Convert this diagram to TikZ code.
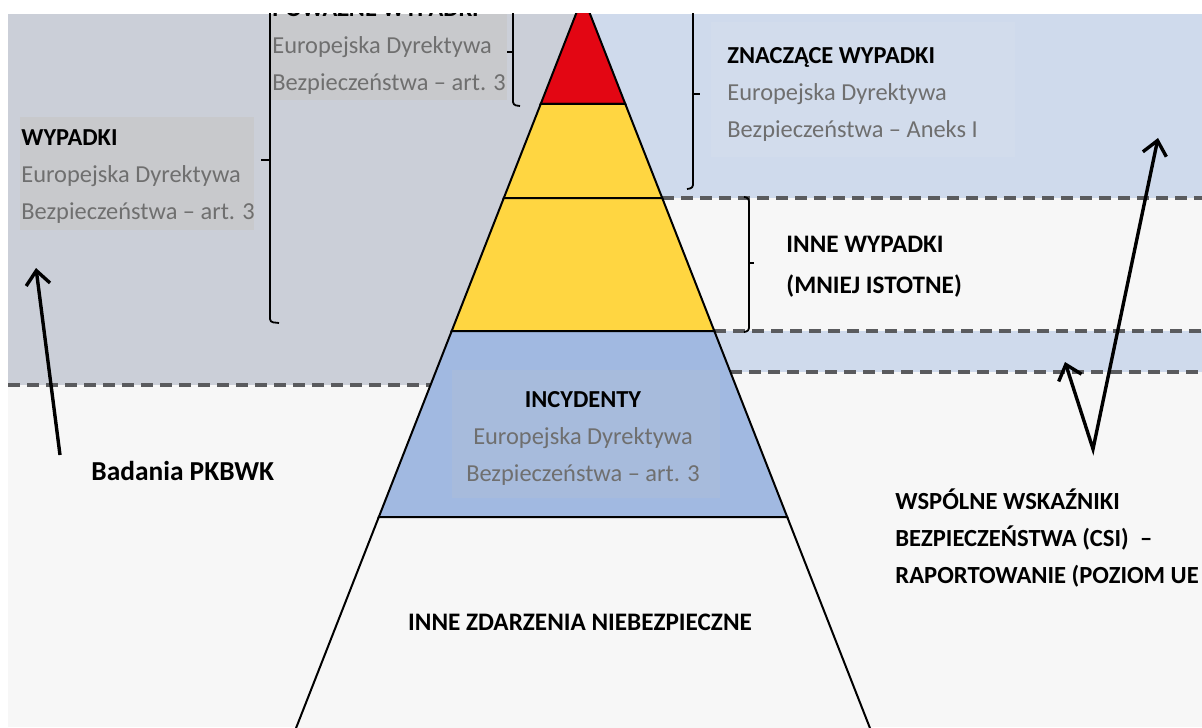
\documentclass[tikz,border=0pt]{standalone}
\usepackage{fontspec}
\setmainfont{Carlito}
\usepackage{xcolor}
\usepackage{tikz}
\usetikzlibrary{arrows.meta}

\definecolor{greyband}{HTML}{CBCFD8}
\definecolor{greybox}{HTML}{C8C9CC}
\definecolor{blueband}{HTML}{CFDAEC}
\definecolor{bluebox}{HTML}{D2DCEC}
\definecolor{paleband}{HTML}{F7F7F7}
\definecolor{dashgrey}{HTML}{5A5B5E}
\definecolor{topred}{HTML}{E30613}
\definecolor{midyellow}{HTML}{FFD641}
\definecolor{lowblue}{HTML}{A1B9E1}
\definecolor{incbox}{HTML}{A7BBDC}
\definecolor{greytxt}{HTML}{6F6F6F}

\begin{document}
\begin{tikzpicture}[x=0.5pt, y=-0.5pt]
  \tikzset{
    bandfill/.style={draw=none},
    dashrule/.style={draw=dashgrey, line width=1.8pt, dash pattern=on 6pt off 3.5pt},
    layer/.style={draw=black, line width=1pt, line join=miter},
    brace/.style={draw=black, line width=0.9pt, rounded corners=1.5pt},
    bigarrow/.style={draw=black, line width=1.7pt, line join=miter},
    dirtext/.style={inner sep=0pt, align=left, text=greytxt, font=\fontsize{12.2}{18.5}\selectfont},
    capsnote/.style={inner sep=0pt, align=left, font=\bfseries\fontsize{12.6}{20.5}\selectfont}
  }
  \useasboundingbox (0,0) rectangle (1202,727);
  \fill[white] (0,0) rectangle (1202,727);

  \begin{scope}
    \clip (8,14) rectangle (1202,727);

    % Backgrounds
    \fill[paleband] (8,14) rectangle (1202,727);
    \fill[greyband] (8,14) rectangle (583,385);
    \fill[blueband] (583,14) rectangle (1202,198);
    \fill[blueband] (583,331) rectangle (1202,372);

    % Text boxes behind the labels
    \fill[greybox] (270,14) rectangle (507,100);
    \fill[greybox] (20,117) rectangle (254,230);
    \fill[bluebox] (711,22) rectangle (1015,157);

    % Dashed rules
    \draw[dashrule] (8,385) -- (430,385);
    \draw[dashrule] (662,198) -- (1202,198);
    \draw[dashrule] (714,331) -- (1202,331);
    \draw[dashrule] (730,372) -- (1202,372);

    % Pyramid
    \filldraw[layer, fill=topred] (583,-4) -- (625.3,104) -- (540.7,104) -- cycle;
    \filldraw[layer, fill=midyellow] (540.7,104) -- (625.3,104) -- (662.2,198) -- (503.8,198) -- cycle;
    \filldraw[layer, fill=midyellow] (503.8,198) -- (662.2,198) -- (714.3,331) -- (451.7,331) -- cycle;
    \filldraw[layer, fill=lowblue] (451.7,331) -- (714.3,331) -- (787.2,517) -- (378.8,517) -- cycle;
    \filldraw[layer, fill=paleband] (378.8,517) -- (787.2,517) -- (876.6,745) -- (289.4,745) -- cycle;
    \fill[incbox] (452,370) rectangle (720,498);

    % Labels (base = last line)
    \node[dirtext, anchor=base west] (powazne) at (272,91)
      {{\color{black}\bfseries POWAŻNE WYPADKI}\\Europejska Dyrektywa\\Bezpieczeństwa – art. 3};
    \node[dirtext, anchor=base west] (wypadki) at (21,220)
      {{\color{black}\bfseries WYPADKI}\\Europejska Dyrektywa\\Bezpieczeństwa – art. 3};
    \node[dirtext, anchor=base west] (znaczace) at (727,138)
      {{\color{black}\bfseries ZNACZĄCE WYPADKI}\\Europejska Dyrektywa\\Bezpieczeństwa – Aneks I};
    \node[capsnote, anchor=base west] (inne) at (786,293) {INNE WYPADKI\\(MNIEJ ISTOTNE)};
    \node[dirtext, align=center, anchor=base] (incydenty) at (583,481)
      {{\color{black}\bfseries INCYDENTY}\\Europejska Dyrektywa\\Bezpieczeństwa – art. 3};
    \node[capsnote, anchor=base] (zdarzenia) at (580,630) {INNE ZDARZENIA NIEBEZPIECZNE};
    \node[capsnote, anchor=base west, font=\bfseries\fontsize{13.7}{20}\selectfont] (pkbwk) at (91,480) {Badania PKBWK};
    \node[capsnote, anchor=base west, font=\bfseries\fontsize{12.3}{18.5}\selectfont] (csi) at (895,583)
      {WSPÓLNE WSKAŹNIKI\\BEZPIECZEŃSTWA (CSI)~~–\\RAPORTOWANIE (POZIOM UE};

    % Braces
    \draw[brace] (270,-30) -- (270,322) -- (279,323);
    \draw[brace] (270,160) -- (261,160);
    \draw[brace] (513,-10) -- (513,105) -- (520,106);
    \draw[brace] (513,52) -- (507,52);
    \draw[brace] (693,-10) -- (693,188) -- (687,189);
    \draw[brace] (693,94) -- (700,94);
    \draw[brace] (744,197) -- (749,198) -- (749,331) -- (744,332);
    \draw[brace] (749,263) -- (754,263);

    % Arrows
    \coordinate (pkbwkTail) at (60,455);
    \coordinate (pkbwkTip) at (36,268);
    \coordinate (csiVertex) at (1093,449);
    \coordinate (csiTipLow) at (1065,362);
    \coordinate (csiTipHigh) at (1158,138);
    \draw[bigarrow, -{Straight Barb[length=7pt,width=12pt]}] (pkbwkTail) -- (pkbwkTip);
    \draw[bigarrow, {Straight Barb[length=7pt,width=12pt]}-{Straight Barb[length=7pt,width=12pt]}]
      (csiTipLow) -- (csiVertex) -- (csiTipHigh);
  \end{scope}
\end{tikzpicture}
\end{document}
